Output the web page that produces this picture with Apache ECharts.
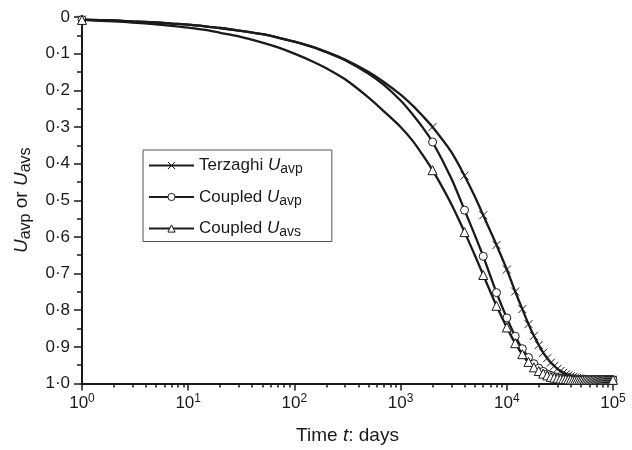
<!DOCTYPE html>
<html><head><meta charset="utf-8">
<script src="https://cdn.jsdelivr.net/npm/echarts@6/dist/echarts.min.js"></script>
<style>html,body{margin:0;padding:0;background:#fff}#c{width:632px;height:450px}</style>
</head><body><div id="c"></div>
<script>
// time in days
const times = [1,2,3,5,7,10,15,20,30,50,70,100,150,200,300,500,700,1000,1300,1600,
  2000,3000,4000,5000,6000,8000,10000,12000,14000,16000,18000,20000,
  22000,24000,26000,28000,30000,32000,34000,36000,38000,40000,
  42000,44000,46000,48000,50000,52000,54000,56000,58000,60000,
  62000,64000,66000,68000,70000,72000,74000,76000,78000,80000,
  82000,84000,86000,88000,90000,92000,94000,96000,98000,100000];
// times carrying a marker: t = 1 and every 2000 days from 2000 on
const markerStep = 2000;

const terzaghiUavp = [0.007,0.0095,0.012,0.015,0.018,0.021,0.026,0.030,0.037,0.047,0.056,0.067,0.082,0.095,0.116,0.150,0.178,0.212,0.242,0.269,
  0.300,0.368,0.433,0.490,0.541,0.622,0.689,0.749,0.797,0.838,0.870,0.895,
  0.916,0.931,0.943,0.952,0.960,0.966,0.971,0.975,0.978,0.980,
  0.982,0.984,0.985,0.986,0.987,0.988,0.988,0.989,0.989,0.989,
  0.990,0.990,0.990,0.990,0.990,0.990,0.990,0.990,0.990,0.990,
  0.990,0.990,0.990,0.990,0.990,0.990,0.990,0.990,0.990,0.990];

const coupledUavp = [0.007,0.0095,0.012,0.015,0.018,0.021,0.026,0.030,0.037,0.047,0.056,0.067,0.082,0.096,0.118,0.155,0.186,0.228,0.266,0.300,
  0.341,0.440,0.527,0.595,0.653,0.752,0.821,0.871,0.905,0.929,0.946,0.958,
  0.967,0.974,0.978,0.981,0.984,0.985,0.987,0.988,0.988,0.989,
  0.989,0.990,0.990,0.990,0.990,0.990,0.990,0.990,0.990,0.990,
  0.990,0.990,0.990,0.990,0.990,0.990,0.990,0.990,0.990,0.990,
  0.990,0.990,0.990,0.990,0.990,0.990,0.990,0.990,0.990,0.990];

const coupledUavs = [0.008,0.012,0.015,0.020,0.024,0.029,0.036,0.043,0.053,0.070,0.083,0.100,0.122,0.140,0.170,0.220,0.258,0.300,0.338,0.375,
  0.418,0.510,0.587,0.650,0.704,0.788,0.847,0.890,0.920,0.941,0.956,0.966,
  0.973,0.978,0.982,0.984,0.986,0.987,0.988,0.988,0.989,0.989,
  0.990,0.990,0.990,0.990,0.990,0.990,0.990,0.990,0.990,0.990,
  0.990,0.990,0.990,0.990,0.990,0.990,0.990,0.990,0.990,0.990,
  0.990,0.990,0.990,0.990,0.990,0.990,0.990,0.990,0.990,0.990];

const seriesNames = ['Terzaghi Uavp', 'Coupled Uavp', 'Coupled Uavs'];
const legendLabels = {
  'Terzaghi Uavp': '{n|Terzaghi }{it|U}{sub|avp}',
  'Coupled Uavp': '{n|Coupled }{it|U}{sub|avp}',
  'Coupled Uavs': '{n|Coupled }{it|U}{sub|avs}'
};
const yTickLabels = ['0','0·1','0·2','0·3','0·4','0·5','0·6','0·7','0·8','0·9','1·0'];
const xAxisTitle = '{n|Time }{it|t}{n|: days}';
const yAxisTitle = '{it|U}{sub|avp}{n| or }{it|U}{sub|avs}';

const FONT = 'Liberation Sans, Arial, sans-serif';
const C = '#1a1a1a';
function richSet(main, sub) {
  return {
    n: {fontFamily: FONT, fontSize: main, color: C, lineHeight: main + 5},
    it: {fontFamily: FONT, fontSize: main, fontStyle: 'italic', color: C, lineHeight: main + 5},
    sub: {fontFamily: FONT, fontSize: sub, color: C, lineHeight: 8, verticalAlign: 'bottom'},
    b: {fontFamily: FONT, fontSize: main, color: C, lineHeight: main + 5},
    sup: {fontFamily: FONT, fontSize: sub, color: C, lineHeight: 8, verticalAlign: 'top'}
  };
}

function build(values) {
  return times.map((t, i) => {
    const item = {value: [t, values[i]]};
    if (!(t === 1 || t % markerStep === 0)) item.symbol = 'none';
    return item;
  });
}

const symbols = ['path://M0,0L10,10M0,10L10,0', 'circle', 'triangle'];
const sizes = [8, 8, 9];
const allValues = [terzaghiUavp, coupledUavp, coupledUavs];

const chart = echarts.init(document.getElementById('c'), null, {renderer: 'canvas'});
chart.setOption({
  animation: false,
  backgroundColor: '#fff',
  grid: {left: 82, right: 19, top: 17, bottom: 63, containLabel: false},
  legend: {
    orient: 'vertical', left: 143, top: 150,
    itemWidth: 45, itemHeight: 9, itemGap: 12,
    padding: [7, 29, 2, 5],
    borderColor: '#555', borderWidth: 1,
    data: seriesNames,
    itemStyle: {borderWidth: 1},
    formatter: name => legendLabels[name],
    textStyle: {rich: richSet(17, 14)}
  },
  xAxis: {
    type: 'log', logBase: 10, min: 1, max: 100000,
    name: xAxisTitle, nameLocation: 'middle', nameGap: 40,
    nameTextStyle: {rich: richSet(19, 15)},
    axisLine: {onZero: false, lineStyle: {color: C, width: 2}},
    axisTick: {show: true, length: 7, lineStyle: {color: C, width: 1.5}},
    minorTick: {show: true, splitNumber: 9, length: 4, lineStyle: {color: C, width: 1.5}},
    axisLabel: {margin: 9, formatter: v => '{b|10}{sup|' + Math.round(Math.log10(v)) + '}', rich: richSet(17, 12)},
    splitLine: {show: false}, minorSplitLine: {show: false}
  },
  yAxis: {
    type: 'value', inverse: true, min: 0, max: 1, interval: 0.1,
    name: yAxisTitle, nameLocation: 'middle', nameGap: 48, nameRotate: 90,
    nameTextStyle: {rich: richSet(19, 16)},
    axisLine: {show: true, onZero: false, lineStyle: {color: C, width: 2}},
    axisTick: {show: true, length: 8, lineStyle: {color: C, width: 1.5}},
    minorTick: {show: true, splitNumber: 2, length: 5, lineStyle: {color: C, width: 1.5}},
    axisLabel: {margin: 12, fontFamily: FONT, fontSize: 17, color: C,
      formatter: v => yTickLabels[Math.round(v * 10)]},
    splitLine: {show: false}
  },
  series: seriesNames.map((name, k) => ({
    name: name, type: 'line',
    data: build(allValues[k]),
    smooth: 0.3,
    showAllSymbol: true,
    symbol: symbols[k], symbolSize: sizes[k], symbolKeepAspect: true,
    lineStyle: {color: C, width: 2.3},
    itemStyle: {color: '#fff', borderColor: C, borderWidth: 1},
    z: 2 + k
  }))
});
</script></body></html>
